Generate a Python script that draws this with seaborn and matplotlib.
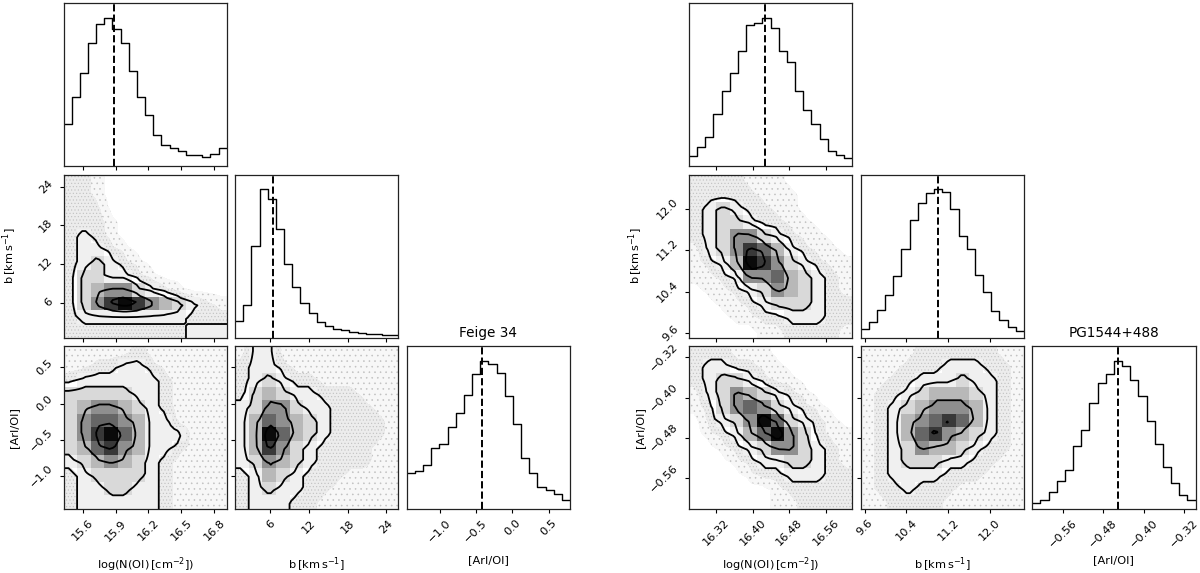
import numpy as np
import pandas as pd
import matplotlib
matplotlib.use('Agg')
import matplotlib.pyplot as plt
import matplotlib.colors as mcolors
import seaborn as sns

# parameter names
labels = [r'log(N(OI)$\,$[cm$^{-2}$])', r'b$\,$[km$\,$s$^{-1}$]', '[ArI/OI]']

# ---- Feige 34 ----
feige_ranges = [(15.423, 16.916), (0.55, 25.9), (-1.452, 0.795)]
feige_ticks = [[15.6, 15.9, 16.2, 16.5, 16.8], [6, 12, 18, 24], [-1.0, -0.5, 0.0, 0.5]]
feige_tick_labels = [['15.6', '15.9', '16.2', '16.5', '16.8'], ['6', '12', '18', '24'],
                     ['\u22121.0', '\u22120.5', '0.0', '0.5']]
feige_medians = [15.883, 6.5, -0.42]
feige_logn_counts = [125, 207, 277, 367, 425, 442, 409, 367, 284, 207, 152, 92, 65, 54, 45, 35, 35, 29, 37, 54]
feige_b_counts = [51, 98, 273, 443, 414, 326, 221, 151, 104, 73, 46, 36, 26, 22, 17, 14, 11, 10, 8, 8]
feige_aro_counts = [107, 115, 132, 182, 195, 245, 287, 342, 405, 445, 435, 409, 340, 255, 153, 107, 67, 58, 45, 27]
# 2D density grids, rows from top to bottom (0 empty, 1-2 scatter only, 3-9 density)
feige_logn_b = ["221000000000",
                "221000000000",
                "222000000000",
                "222100000000",
                "232100000000",
                "233210000000",
                "234321000000",
                "244332100000",
                "245664321000",
                "246898654321",
                "233333333222",
                "222222222333"]
feige_logn_aro = ["111112111111",
                  "112233211111",
                  "233333321111",
                  "444443321111",
                  "456654321111",
                  "467765331111",
                  "468975333111",
                  "457865332111",
                  "345654321111",
                  "234444321111",
                  "233443321111",
                  "233333321111"]
feige_b_aro = ["133111111111",
               "233211111111",
               "234322111111",
               "245433222111",
               "346643322211",
               "357654322221",
               "359754322221",
               "358643222211",
               "346543222211",
               "235432221111",
               "234332211111",
               "233322111111"]

# ---- PG1544+488 ----
pg_ranges = [(16.261, 16.618), (9.52, 12.652), (-0.621, -0.297)]
pg_ticks = [[16.32, 16.40, 16.48, 16.56], [9.6, 10.4, 11.2, 12.0], [-0.56, -0.48, -0.40, -0.32]]
pg_tick_labels = [['16.32', '16.40', '16.48', '16.56'], ['9.6', '10.4', '11.2', '12.0'],
                  ['\u22120.56', '\u22120.48', '\u22120.40', '\u22120.32']]
pg_medians = [16.427, 11.0, -0.45]
pg_logn_counts = [32, 57, 89, 157, 227, 279, 347, 425, 430, 445, 415, 345, 314, 227, 169, 127, 82, 47, 35, 24]
pg_b_counts = [26, 46, 84, 128, 186, 266, 354, 404, 434, 446, 438, 386, 306, 266, 188, 136, 81, 53, 33, 21]
pg_aro_counts = [18, 27, 52, 85, 117, 190, 237, 317, 377, 405, 445, 430, 387, 340, 263, 195, 127, 77, 42, 27]
pg_logn_b = ["222211100000",
             "222221110000",
             "234322110000",
             "234432211000",
             "234664321100",
             "134687532110",
             "123598643211",
             "112366754321",
             "011234654321",
             "001123444322",
             "000112233322",
             "000001122221"]
pg_logn_aro = ["222111000000",
               "233221100000",
               "234432110000",
               "134654321000",
               "124676432100",
               "023469743210",
               "012357964211",
               "001234664321",
               "000123344321",
               "000012233322",
               "000000122222",
               "000000112222"]
pg_b_aro = ["111122222211",
            "111222333221",
            "112233343321",
            "122345554321",
            "123456665321",
            "123567875321",
            "123578654321",
            "123465543221",
            "123444332211",
            "123333222111",
            "122322211111",
            "112222111111"]

plt.rcParams['hatch.color'] = '#c0c0c0'
plt.rcParams['hatch.linewidth'] = 0.4

FW, FH = 1200, 573
fig = plt.figure(figsize=(12, 5.73), dpi=100)

PW, PH, GAP = 163.3, 163.0, 8.3
grays = mcolors.ListedColormap([(g, g, g) for g in [0.94, 0.85, 0.72, 0.56, 0.40, 0.22, 0.04]])
gnorm = mcolors.BoundaryNorm(np.arange(2.5, 10.0, 1.0), grays.N)


def soften(z, k=4, w=5, passes=1):
    # blocky grid -> finer grid with rounded edges, only for drawing contours
    zf = np.kron(z, np.ones((k, k)))
    kern = np.ones(w) / w
    for _ in range(passes):
        zp = np.pad(zf, w // 2, mode='edge')
        zp = np.apply_along_axis(lambda r: np.convolve(r, kern, mode='valid'), 1, zp)
        zf = np.apply_along_axis(lambda c: np.convolve(c, kern, mode='valid'), 0, zp)
    return zf


def centers(lo, hi, n):
    d = (hi - lo) / n
    c = lo + d * (np.arange(n) + 0.5)
    return np.concatenate([[lo - d], c, [hi + d]])


def draw_2d(ax, rows, xr, yr):
    z = np.array([[int(c) for c in r] for r in rows], float)[::-1]
    ny, nx = z.shape
    xe = np.linspace(xr[0], xr[1], nx + 1)
    ye = np.linspace(yr[0], yr[1], ny + 1)
    zs = soften(z)
    xc = centers(xr[0], xr[1], zs.shape[1])
    yc = centers(yr[0], yr[1], zs.shape[0])
    zp = np.pad(zs, 1, mode='edge')
    ax.contourf(xc, yc, zp, levels=[0.5, 1.5, 2.6], colors=['#f7f7f7', '#ececec'],
                hatches=['...', '.....'])
    ax.pcolormesh(xe, ye, np.ma.masked_less(z, 2.5), cmap=grays, norm=gnorm)
    ax.contour(xc, yc, zp, levels=[2.5, 3.5, 5.5, 7.5], colors='k', linewidths=1.3)
    ax.set_xlim(xr)
    ax.set_ylim(yr)


def corner(x0, ranges, ticks, tlabels, medians, counts, grids, title):
    for i in range(3):
        for j in range(i + 1):
            left = x0 + j * (PW + GAP)
            top = 3.3 + i * (PH + GAP)
            ax = fig.add_axes([left / FW, 1 - (top + PH) / FH, PW / FW, PH / FH])
            if i == j:
                n = len(counts[i])
                edges = np.linspace(ranges[i][0], ranges[i][1], n + 1)
                df = pd.DataFrame({'x': 0.5 * (edges[:-1] + edges[1:]), 'w': counts[i]})
                sns.histplot(data=df, x='x', weights='w', bins=n, binrange=ranges[i],
                             element='step', fill=False, color='k', linewidth=1.0, ax=ax)
                ax.axvline(medians[i], color='k', ls='--', lw=1.4)
                ax.set_ylim(0, 1.1 * max(counts[i]))
                ax.set_yticks([])
                ax.set_ylabel('')
            else:
                draw_2d(ax, grids[(i, j)], ranges[j], ranges[i])
                ax.set_yticks(ticks[i])
                if j == 0:
                    ax.set_yticklabels(tlabels[i], rotation=45, fontsize=8.2, va='center')
                    ax.set_ylabel(labels[i], fontsize=8.2)
                    ax.yaxis.set_label_coords(-0.27, 0.5)
                else:
                    ax.set_yticklabels([])
            ax.set_xlim(ranges[j])
            ax.set_xticks(ticks[j])
            if i == 2:
                ax.set_xticklabels(tlabels[j], rotation=45, fontsize=8.2)
                ax.set_xlabel(labels[j], fontsize=8.2)
                ax.xaxis.set_label_coords(0.5, -0.285)
            else:
                ax.set_xticklabels([])
                ax.set_xlabel('')
            if i == 2 and j == 2:
                ax.set_title(title, fontsize=9.8, pad=6.5)
            for s in ax.spines.values():
                s.set_linewidth(0.9)
                s.set_color('#222222')
            ax.tick_params(length=3, width=0.8)


corner(63.5, feige_ranges, feige_ticks, feige_tick_labels, feige_medians,
       [feige_logn_counts, feige_b_counts, feige_aro_counts],
       {(1, 0): feige_logn_b, (2, 0): feige_logn_aro, (2, 1): feige_b_aro}, 'Feige 34')
corner(689.0, pg_ranges, pg_ticks, pg_tick_labels, pg_medians,
       [pg_logn_counts, pg_b_counts, pg_aro_counts],
       {(1, 0): pg_logn_b, (2, 0): pg_logn_aro, (2, 1): pg_b_aro}, 'PG1544+488')

fig.savefig('out.png', dpi=100)
